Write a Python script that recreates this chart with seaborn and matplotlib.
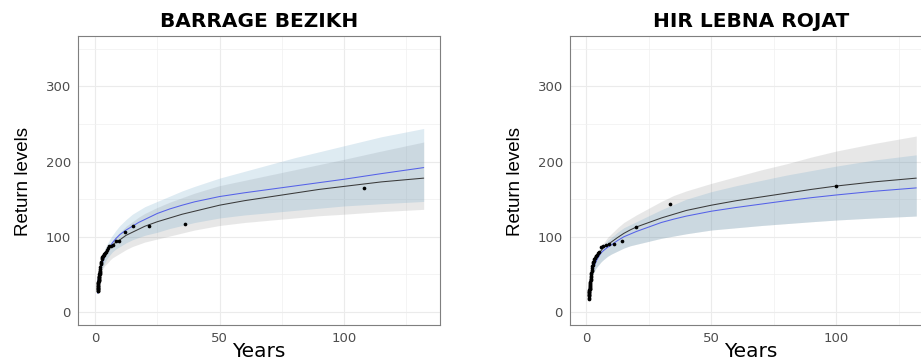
import numpy as np
import pandas as pd
import matplotlib
matplotlib.use("Agg")
import matplotlib.pyplot as plt
import seaborn as sns

# ---------------- data ----------------
titles = ["BARRAGE BEZIKH", "HIR LEBNA ROJAT"]

# return periods (years) at which curves / bands are read
period = [1.01, 1.1, 1.25, 1.5, 2, 2.5, 3, 4, 5, 6, 7, 8.5, 10, 12.5, 15, 17.5, 20,
          25, 30, 35, 40, 50, 60, 70, 80, 90, 100, 115, 132]

fit_black_left = [30, 37, 44, 51, 60, 66, 71, 77, 82, 86, 89, 93, 96, 102, 106, 110, 114,
                  120, 125, 130, 134, 142, 148, 153, 158, 163, 167, 173, 178]
fit_blue_left = [25, 33, 41, 48, 54, 60, 66, 75, 81, 87, 92, 98, 103, 109, 114, 119, 123,
                 131, 137, 142, 146.5, 153.5, 158.5, 163, 167.5, 172, 176.5, 184, 192]
band_blue_hi_left = [28, 36, 44, 52, 61, 69, 75, 85, 91, 97, 102, 109, 115, 123, 130, 135, 140,
                     147, 154, 161, 167, 178, 187, 196, 205, 213, 221, 233, 244]
band_blue_lo_left = [22, 29, 36, 42, 49, 55, 59, 66, 72, 76, 80, 84, 87, 92, 96, 99, 102,
                     106, 111, 115, 119, 125, 129, 132, 135, 138, 141, 144, 147]
band_grey_hi_left = [32, 38, 45, 52, 60, 66, 71, 79, 85, 90, 95, 101, 106, 114, 120, 126, 131,
                     139, 146, 152, 158, 168, 175, 182, 189, 196, 203, 214, 226]
band_grey_lo_left = [28, 32, 38, 44, 50, 54, 57, 62, 65, 69, 72, 75, 78, 83, 87, 90, 93,
                     97, 101, 105, 109, 115, 119, 122, 125, 128, 130, 133.5, 136.5]

fit_black_right = [18, 27, 35, 43, 52, 58, 63, 71, 77, 82, 86, 89, 93, 99, 104.5, 109, 113,
                   119, 125, 130, 135, 142, 148, 153, 158, 163, 167.5, 173, 178]
fit_blue_right = [17, 24, 31, 39, 48, 55, 60, 68, 74, 79, 82, 86, 89, 95, 100, 103.5, 107,
                  113, 119, 123.5, 127.5, 134, 139, 143.5, 148, 152, 155.6, 160.5, 165]
band_blue_hi_right = [19, 27, 34, 42, 52, 59, 65, 74, 80, 85, 89, 95, 99, 106, 112, 116, 120,
                      128, 136, 143, 150, 160, 168, 175, 182, 188, 194, 202, 209]
band_blue_lo_right = [15, 21, 28, 35, 43, 49, 53, 59, 63, 67, 70, 74, 77, 81, 85, 88, 90,
                      94, 98, 101, 104, 109, 112, 115, 117.5, 120, 122.3, 125, 127.6]
band_grey_hi_right = [20, 28, 36, 44, 54, 62, 68, 77, 83, 88, 92, 99, 104, 112, 119, 124, 129,
                      138, 147, 155, 161, 171, 180, 189, 197, 206, 214, 224, 234]
band_grey_lo_right = band_blue_lo_right

# observed maxima (empirical return period, value)
obs_T_left = [108, 36, 21.6, 15.4, 12, 9.82, 8.31, 7.2, 6.35, 5.68, 5.14, 4.7, 4.32,
              4.0, 3.72, 3.48, 3.27, 3.08, 2.92, 2.77, 2.63, 2.51, 2.4, 2.3, 2.2,
              2.12, 2.04, 1.96, 1.89, 1.83, 1.77, 1.71, 1.66, 1.61, 1.57, 1.53,
              1.49, 1.45, 1.41, 1.37, 1.34, 1.31, 1.28, 1.25, 1.23, 1.2, 1.17,
              1.15, 1.13, 1.11, 1.09, 1.07, 1.05, 1.03]
obs_y_left = [165, 117.5, 115, 114, 107, 94.5, 94, 89, 88, 87.5, 85, 82, 80,
              78, 77, 76, 75, 74, 73, 72, 71, 66, 65, 64, 60,
              57, 55, 53, 52, 51, 50, 48, 47, 46, 45, 44,
              43, 42, 41, 40, 39, 38, 37, 36, 35, 34, 33,
              32.5, 32, 31, 30, 29.5, 28.5, 28]

obs_T_right = [100, 33.3, 20, 14.3, 11.1, 9.09, 7.69, 6.67, 5.88, 5.26, 4.76, 4.35,
               4.0, 3.7, 3.45, 3.23, 3.03, 2.86, 2.7, 2.56, 2.44, 2.33, 2.22, 2.13,
               2.04, 1.96, 1.89, 1.82, 1.75, 1.69, 1.64, 1.59, 1.54, 1.49, 1.45,
               1.41, 1.37, 1.33, 1.3, 1.27, 1.23, 1.2, 1.18, 1.15, 1.12, 1.1,
               1.08, 1.05, 1.03, 1.01]
obs_y_right = [168, 143, 113.5, 94.8, 90, 90, 88.5, 87.5, 87, 80, 78, 76,
               75, 74, 72, 70, 68, 66, 65, 63, 61, 58, 56, 54,
               52, 50, 48, 46, 44, 42, 40, 38.5, 37, 35.5, 34,
               33, 32, 31, 30, 29, 28, 27, 26, 25, 24, 23,
               22, 21, 19, 17]

x_major = [0, 50, 100]
x_minor = [25, 75, 125]
y_major = [0, 100, 200, 300]
y_minor = [50, 150, 250, 350]

# ---------------- styling ----------------
sns.set_theme(style="white")
plt.rcParams['font.family'] = ['DejaVu Sans']

W, H = 921, 361
fig = plt.figure(figsize=(W / 100, H / 100), dpi=100)

panels = [
    dict(left=78, title=titles[0], black=fit_black_left, blue=fit_blue_left,
         bhi=band_blue_hi_left, blo=band_blue_lo_left, ghi=band_grey_hi_left,
         glo=band_grey_lo_left, oT=obs_T_left, oy=obs_y_left, xlim=(-6.83, 138.55)),
    dict(left=570, title=titles[1], black=fit_black_right, blue=fit_blue_right,
         bhi=band_blue_hi_right, blo=band_blue_lo_right, ghi=band_grey_hi_right,
         glo=band_grey_lo_right, oT=obs_T_right, oy=obs_y_right, xlim=(-6.52, 138.28)),
]

ax_w, top, bottom = 362, 36, 325
for p in panels:
    ax = fig.add_axes([p['left'] / W, 1 - bottom / H, ax_w / W, (bottom - top) / H])
    ax.set_facecolor('white')

    ax.fill_between(period, p['glo'], p['ghi'], color='#7F7F7F', alpha=0.18, lw=0, zorder=1)
    ax.fill_between(period, p['blo'], p['bhi'], color='#69A4C8', alpha=0.22, lw=0, zorder=2)

    df = pd.DataFrame({'T': period, 'black': p['black'], 'blue': p['blue']})
    sns.lineplot(data=df, x='T', y='black', ax=ax, color='#3A3A3A', lw=0.75, zorder=3)
    sns.lineplot(data=df, x='T', y='blue', ax=ax, color='#5561E8', lw=0.75, zorder=3)
    sns.scatterplot(x=p['oT'], y=p['oy'], ax=ax, color='black', s=7, linewidth=0, zorder=4)

    ax.set_xlim(*p['xlim'])
    ax.set_ylim(-17.3, 367)
    ax.set_xticks(x_major)
    ax.set_xticks(x_minor, minor=True)
    ax.set_yticks(y_major)
    ax.set_yticks(y_minor, minor=True)
    ax.grid(which='major', color='#EBEBEB', lw=0.8)
    ax.grid(which='minor', color='#F1F1F1', lw=0.55)
    ax.set_axisbelow(True)
    ax.tick_params(which='major', length=3.6, width=0.8, color='#7F7F7F',
                   labelcolor='#4D4D4D', labelsize=9.5, pad=1.5)
    ax.tick_params(which='minor', length=0)
    for s in ax.spines.values():
        s.set_color('#7F7F7F')
        s.set_linewidth(0.8)
    ax.set_xlabel('')
    ax.set_ylabel('')

    cx = p['left'] + ax_w / 2
    fig.text(cx / W, 1 - 27 / H, p['title'], ha='center', va='baseline',
             fontsize=14.5, fontweight='bold', color='black')
    fig.text(cx / W, 1 - 357 / H, 'Years', ha='center', va='baseline',
             fontsize=14.5, color='black')
    fig.text((p['left'] - 55) / W, 1 - 181 / H, 'Return levels', ha='center', va='center',
             rotation=90, fontsize=13.5, color='black', family=['Liberation Sans', 'DejaVu Sans'])

fig.savefig('out.png', dpi=100)
